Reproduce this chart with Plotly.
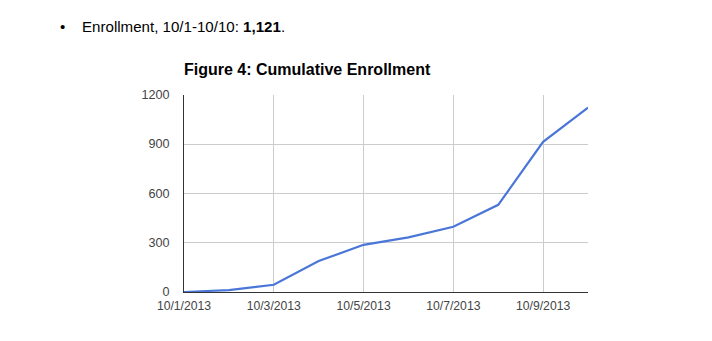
import plotly.graph_objects as go

dates = ["2013-10-01", "2013-10-02", "2013-10-03", "2013-10-04", "2013-10-05",
         "2013-10-06", "2013-10-07", "2013-10-08", "2013-10-09", "2013-10-10"]
enrollment = [0, 12, 44, 188, 287, 332, 397, 530, 913, 1121]
x_tickvals = ["2013-10-01", "2013-10-03", "2013-10-05", "2013-10-07", "2013-10-09"]
x_ticktext = ["10/1/2013", "10/3/2013", "10/5/2013", "10/7/2013", "10/9/2013"]
y_tickvals = [0, 300, 600, 900, 1200]

W, H = 712, 341
font = "Liberation Sans, Arial, sans-serif"

fig = go.Figure()
fig.add_trace(go.Scatter(x=dates, y=enrollment, mode="lines",
                         line=dict(color="#4a76d8", width=2.2),
                         hoverinfo="skip", showlegend=False))

fig.update_layout(
    width=W, height=H, autosize=False,
    margin=dict(l=0, r=0, t=0, b=0, pad=0, autoexpand=False),
    paper_bgcolor="white", plot_bgcolor="white",
    font=dict(family=font, color="#444"),
    xaxis=dict(domain=[184/W, 588/W], type="date", automargin=False,
               range=["2013-10-01", "2013-10-10"],
               tickvals=x_tickvals, ticktext=x_ticktext,
               showgrid=True, gridcolor="#cccccc", gridwidth=1,
               showline=True, linecolor="#333", linewidth=1,
               ticks="", ticklabelstandoff=2,
               tickfont=dict(size=12.2, color="#444", family=font),
               zeroline=False, fixedrange=True),
    yaxis=dict(domain=[(H-292)/H, (H-94.7)/H], automargin=False,
               range=[0, 1200], tickvals=y_tickvals,
               showgrid=True, gridcolor="#cccccc", gridwidth=1,
               showline=True, linecolor="#333", linewidth=1,
               ticks="", ticklabelstandoff=11,
               tickfont=dict(size=12.6, color="#444", family=font),
               zeroline=False, fixedrange=True),
    annotations=[
        dict(text="•", x=58/W, y=1-26/H, xref="paper", yref="paper",
             xanchor="left", yanchor="middle", showarrow=False,
             font=dict(size=15, color="#000", family=font)),
        dict(text="Enrollment, 10/1-10/10: <b>1,121</b>.", x=80/W, y=1-26/H,
             xref="paper", yref="paper", xanchor="left", yanchor="middle",
             showarrow=False, font=dict(size=15.1, color="#000", family=font)),
        dict(text="<b>Figure 4: Cumulative Enrollment</b>", x=307.5/W, y=1-69/H,
             xref="paper", yref="paper", xanchor="center", yanchor="middle",
             showarrow=False, font=dict(size=16, color="#000", family=font)),
    ],
)

fig.write_html("out.html", config={"displayModeBar": False})
